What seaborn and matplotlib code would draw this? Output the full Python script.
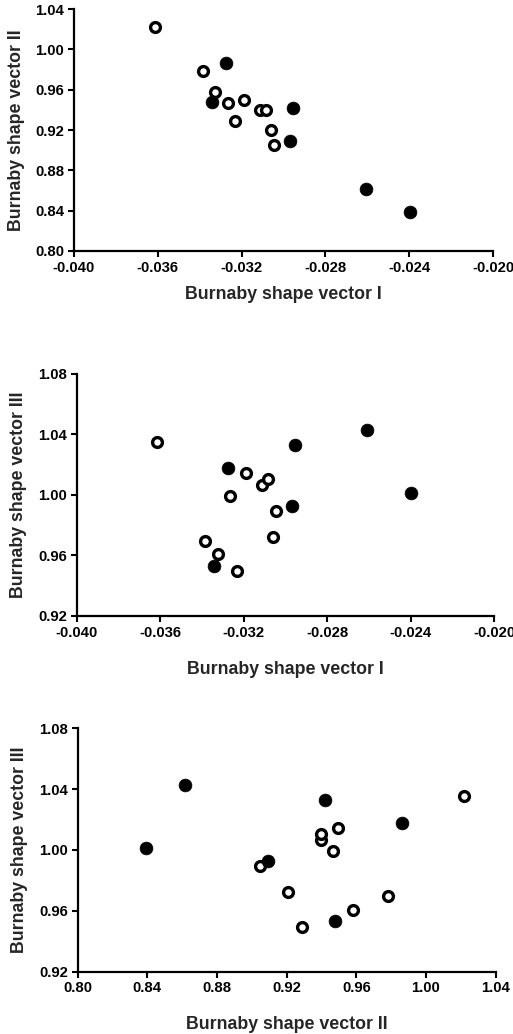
import matplotlib
matplotlib.use("Agg")
import matplotlib.pyplot as plt
import seaborn as sns
import pandas as pd

# Burnaby shape vectors: open-circle group
open_I = [-0.03615, -0.03385, -0.03325, -0.03265, -0.03232, -0.03190, -0.03111, -0.03082, -0.03046, -0.03060]
open_II = [1.0220, 0.9782, 0.9582, 0.9467, 0.9288, 0.9494, 0.9396, 0.9398, 0.9047, 0.9205]
open_III = [1.0352, 0.9698, 0.9606, 0.9993, 0.9496, 1.0142, 1.0067, 1.0107, 0.9894, 0.9721]

# filled-circle group
fill_I = [-0.03342, -0.03275, -0.02953, -0.02968, -0.02608, -0.02396]
fill_II = [0.9477, 0.9864, 0.9420, 0.9095, 0.8617, 0.8390]
fill_III = [0.9533, 1.0179, 1.0327, 0.9929, 1.0429, 1.0013]

ticks_I = [-0.040, -0.036, -0.032, -0.028, -0.024, -0.020]
ticks_II = [0.80, 0.84, 0.88, 0.92, 0.96, 1.00, 1.04]
ticks_III = [0.92, 0.96, 1.00, 1.04, 1.08]

label_I = "Burnaby shape vector I"
label_II = "Burnaby shape vector II"
label_III = "Burnaby shape vector III"

open_df = pd.DataFrame({"I": open_I, "II": open_II, "III": open_III})
fill_df = pd.DataFrame({"I": fill_I, "II": fill_II, "III": fill_III})

sns.set_style("ticks")
plt.rcParams["font.family"] = ["Liberation Sans", "DejaVu Sans"]
plt.rcParams["font.weight"] = "bold"

fig = plt.figure(figsize=(5.13, 10.34), dpi=100)

panels = [
    ("I", "II", ticks_I, ticks_II, "{:.3f}", "{:.2f}", label_I, label_II,
     [0.1442, 0.7573, 0.8168, 0.2338], 8, -0.117),
    ("I", "III", ticks_I, ticks_III, "{:.3f}", "{:.2f}", label_I, label_III,
     [0.1495, 0.4043, 0.8135, 0.2343], 15, -0.118),
    ("II", "III", ticks_II, ticks_III, "{:.2f}", "{:.2f}", label_II, label_III,
     [0.1514, 0.0603, 0.8148, 0.2354], 15, -0.120),
]

for xc, yc, xt, yt, xf, yf, xl, yl, rect, lp, ylx in panels:
    ax = fig.add_axes(rect)
    sns.scatterplot(data=open_df, x=xc, y=yc, ax=ax, s=50, facecolor="white",
                    edgecolor="black", linewidth=2.4, zorder=3, clip_on=False)
    sns.scatterplot(data=fill_df, x=xc, y=yc, ax=ax, s=85, color="black",
                    edgecolor="black", linewidth=0.5, zorder=3, clip_on=False)
    ax.set_xlim(xt[0], xt[-1])
    ax.set_ylim(yt[0], yt[-1])
    ax.set_xticks(xt)
    ax.set_yticks(yt)
    ax.set_xticklabels([xf.format(v) for v in xt], fontsize=10.7, fontweight="bold")
    ax.set_yticklabels([yf.format(v) for v in yt], fontsize=10.7, fontweight="bold")
    ax.set_xlabel(xl, fontsize=12.8, fontweight="bold", labelpad=lp)
    ax.set_ylabel(yl, fontsize=12.8, fontweight="bold")
    ax.yaxis.set_label_coords(ylx, 0.5)
    for s in ["top", "right"]:
        ax.spines[s].set_visible(False)
    for s in ["left", "bottom"]:
        ax.spines[s].set_linewidth(1.6)
        ax.spines[s].set_color("black")
    ax.tick_params(direction="out", length=4, width=1.5, colors="black", pad=3)
    ax.grid(False)

fig.savefig("out.png", dpi=100)
